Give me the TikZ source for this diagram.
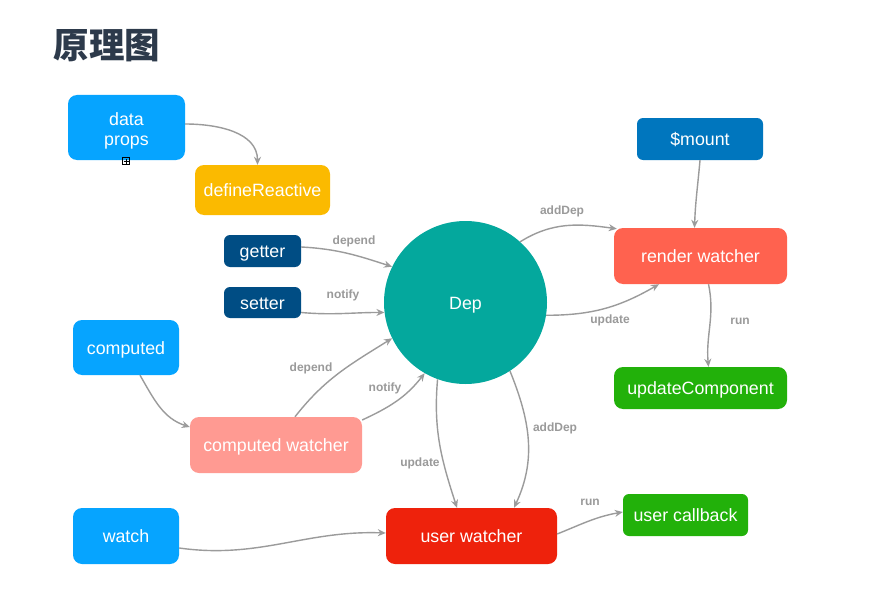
\documentclass[tikz,border=0pt]{standalone}
\usepackage{fontspec}
\setmainfont{Liberation Sans}
\newfontfamily\cjk{Noto Sans CJK SC}
\usetikzlibrary{arrows.meta}
\definecolor{cblue}{HTML}{06A4FF}
\definecolor{cyellow}{HTML}{FBBA00}
\definecolor{cdark}{HTML}{004D84}
\definecolor{cteal}{HTML}{04A89D}
\definecolor{cmount}{HTML}{0076BE}
\definecolor{crender}{HTML}{FF624F}
\definecolor{cgreen}{HTML}{22B10A}
\definecolor{cpink}{HTML}{FF9A92}
\definecolor{cred}{HTML}{EE220C}
\definecolor{cedge}{HTML}{9B9B9B}
\definecolor{clabel}{HTML}{9A9A9A}
\definecolor{ctitle}{HTML}{2D3A4B}
\tikzset{
  box/.style={rounded corners=9pt, inner sep=0pt, text=white,
    text height=13.5pt, text depth=0pt,
    font=\fontsize{17.8}{20}\selectfont},
  sbox/.style={box, rounded corners=6pt},
  conn/.style={draw=cedge, line width=1.4pt, -{Stealth[length=8pt,width=7pt]}},
  lbl/.style={text=clabel, font=\bfseries\fontsize{12}{14}\selectfont, inner sep=0pt}
}
\begin{document}
\begin{tikzpicture}[x=1pt,y=-1pt]
\useasboundingbox (0,0) rectangle (895,594);
\fill[white] (0,0) rectangle (895,594);
% title
\node[text=ctitle, font=\cjk\bfseries\fontsize{35.5}{40}\selectfont, inner sep=0pt] (title) at (107,46) {原理图};
% nodes
\node[box, fill=cblue, minimum width=117pt, minimum height=65pt, align=center, text height=35pt] (dp) at (126.5,127.5) {data\\props};
\node[box, fill=cyellow, minimum width=135pt, minimum height=50pt] (dr) at (262.5,190) {defineReactive};
\node[sbox, fill=cdark, minimum width=77pt, minimum height=32pt] (getter) at (262.5,251) {getter};
\node[sbox, fill=cdark, minimum width=77pt, minimum height=31pt] (setter) at (262.5,302.5) {setter};
\node[circle, fill=cteal, minimum size=163pt, inner sep=0pt, text=white, text height=13.5pt, text depth=0pt, font=\fontsize{17.8}{20}\selectfont] (dep) at (465.5,302.5) {Dep};
\node[sbox, fill=cmount, minimum width=126pt, minimum height=42pt] (mount) at (700,139) {\$mount};
\node[box, fill=crender, minimum width=173pt, minimum height=56pt] (rw) at (700.5,256) {render watcher};
\node[box, fill=cgreen, minimum width=173pt, minimum height=42pt] (uc) at (700.5,388) {updateComponent};
\node[box, fill=cblue, minimum width=106pt, minimum height=55pt] (comp) at (126,347.5) {computed};
\node[box, fill=cpink, minimum width=172pt, minimum height=56pt] (cw) at (276,445) {computed watcher};
\node[box, fill=cblue, minimum width=106pt, minimum height=56pt] (watch) at (126,536) {watch};
\node[box, fill=cred, minimum width=171pt, minimum height=56pt] (uw) at (471.5,536) {user watcher};
\node[sbox, fill=cgreen, minimum width=125pt, minimum height=42pt] (ucb) at (685.5,515) {user callback};
% small icon under data props
\draw[black, line width=0.7pt] (122.5,157.5) rectangle (129.5,164.5);
\draw[black, line width=0.7pt] (126,158.5) -- (126,163.5) (123.5,161) -- (128.5,161);
% connectors
\draw[conn] ([yshift=3.5pt]dp.east) to[out=0,in=90] ([xshift=-5pt]dr.north);
\draw[conn] ([yshift=4pt]getter.east) to[out=-3,in=162] (dep.154);
\draw[conn] ([yshift=-10pt]setter.east) to[out=-5,in=180] (dep.187);
\draw[conn] ([xshift=14pt]comp.south) to[out=-60,in=162] ([yshift=18pt]cw.west);
\draw[conn] ([xshift=19pt]cw.north) to[out=52,in=-148] (dep.206);
\draw[conn] ([yshift=25pt]cw.east) to[out=25,in=-128] (dep.240);
\draw[conn] (dep.48) to[out=32,in=172] ([xshift=3pt,yshift=-1pt]rw.north west);
\draw[conn] (dep.-9) to[out=0,in=-150] ([xshift=-41.5pt]rw.south);
\draw[conn] (mount.south) to[out=-95,in=88] ([xshift=-6pt]rw.north);
\draw[conn] ([xshift=8pt]rw.south) to[out=-78,in=95] ([xshift=8pt]uc.north);
\draw[conn] (dep.250) to[out=-95,in=108] ([xshift=-14.5pt]uw.north);
\draw[conn] (dep.303) to[out=-68,in=65] ([xshift=42.5pt]uw.north);
\draw[conn] ([yshift=-12pt]watch.east) to[out=-8,in=178] ([yshift=3pt]uw.west);
\draw[conn] ([yshift=2pt]uw.east) to[out=22,in=190] ([yshift=3pt]ucb.west);
% labels
\node[lbl] (l1) at (354,241) {depend};
\node[lbl] (l2) at (343,295) {notify};
\node[lbl] (l3) at (311,368) {depend};
\node[lbl] (l4) at (385,388) {notify};
\node[lbl] (l5) at (562,211) {addDep};
\node[lbl] (l6) at (610,320) {update};
\node[lbl] (l7) at (740,321) {run};
\node[lbl] (l8) at (420,463) {update};
\node[lbl] (l9) at (555,428) {addDep};
\node[lbl] (l10) at (590,502) {run};
\end{tikzpicture}
\end{document}
